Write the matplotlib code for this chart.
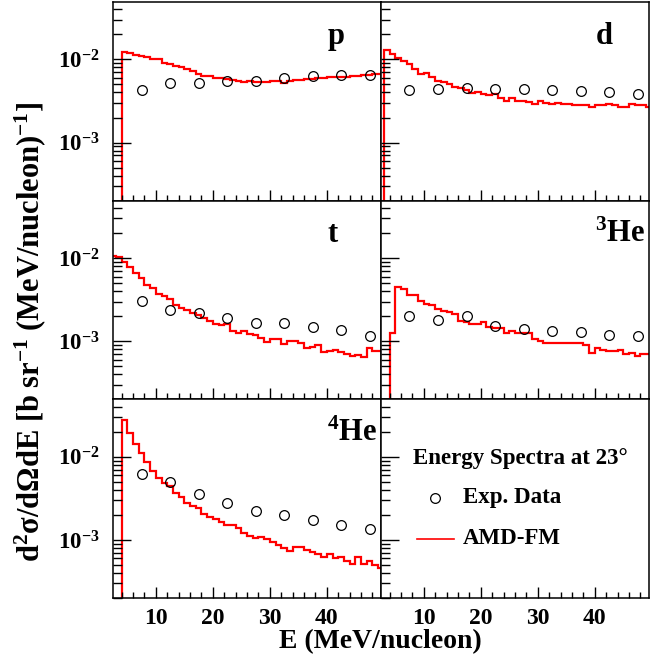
import numpy as np
import matplotlib
matplotlib.use('Agg')
import matplotlib.pyplot as plt
from matplotlib.ticker import FixedLocator, MultipleLocator, FuncFormatter, LogLocator, NullFormatter
from matplotlib.lines import Line2D

plt.rcParams['font.family'] = ['Liberation Serif', 'DejaVu Serif']
plt.rcParams['font.weight'] = 'bold'
plt.rcParams['mathtext.fontset'] = 'custom'
plt.rcParams['mathtext.rm'] = 'Liberation Serif:bold'
plt.rcParams['mathtext.bf'] = 'Liberation Serif:bold'
plt.rcParams['mathtext.it'] = 'Liberation Serif:bold:italic'
plt.rcParams['mathtext.default'] = 'rm'

#%% data

exp_E = [7.5, 12.5, 17.5, 22.5, 27.5, 32.5, 37.5, 42.5, 47.5]

exp_p = [0.00432, 0.0052, 0.00515, 0.0055, 0.0055, 0.00597, 0.00624, 0.00641, 0.00648]
exp_d = [0.00428, 0.00444, 0.00449, 0.00444, 0.00436, 0.00428, 0.0042, 0.00405, 0.0038]
exp_t = [0.00308, 0.0024, 0.00217, 0.00189, 0.00166, 0.00166, 0.00147, 0.00135, 0.00117]
exp_he3 = [0.002, 0.00182, 0.00203, 0.00151, 0.00141, 0.00132, 0.00128, 0.0012, 0.00116]
exp_he4 = [0.00625, 0.00501, 0.00356, 0.00275, 0.00225, 0.00197, 0.00172, 0.00151, 0.00137]

# AMD-FM histograms, 1 MeV/nucleon bins, first bin lower edge given
amd_p_start = 4
amd_p = [0.0122, 0.0120, 0.0114, 0.0111, 0.0106, 0.0102, 0.0101, 0.0091, 0.0087, 0.0083,
         0.0080, 0.0077, 0.0072, 0.0066, 0.0064, 0.0063, 0.0060, 0.0059, 0.0058, 0.0057,
         0.0055, 0.0054, 0.0055, 0.0054, 0.0054, 0.0054, 0.0055, 0.0055, 0.0052, 0.0055,
         0.0056, 0.0057, 0.0058, 0.0058, 0.0059, 0.0060, 0.0061, 0.0061, 0.0062, 0.0062,
         0.0063, 0.0063, 0.0065, 0.0065, 0.0066, 0.0066]

amd_d_start = 3
amd_d = [0.0128, 0.0117, 0.0103, 0.0095, 0.0087, 0.0076, 0.0067, 0.0069, 0.0061, 0.0055,
         0.0053, 0.0051, 0.0047, 0.0045, 0.0043, 0.0039, 0.0041, 0.0038, 0.0037, 0.0038,
         0.0034, 0.0032, 0.0034, 0.0032, 0.0032, 0.0031, 0.0029, 0.0032, 0.0030, 0.0029,
         0.0030, 0.0029, 0.0029, 0.0028, 0.0028, 0.0028, 0.0027, 0.0028, 0.0028, 0.0029,
         0.0028, 0.0027, 0.0027, 0.0029, 0.0028, 0.0028, 0.0027]

amd_t_start = 2
amd_t = [0.0105, 0.0103, 0.0090, 0.0078, 0.0066, 0.0057, 0.0048, 0.0044, 0.0037, 0.0035,
         0.0032, 0.0027, 0.0025, 0.0024, 0.0022, 0.00205, 0.0019, 0.00175, 0.0016, 0.00156,
         0.0016, 0.00132, 0.00127, 0.00132, 0.00121, 0.00118, 0.0011, 0.00098, 0.00107, 0.00105,
         0.00093, 0.0010, 0.0010, 0.00096, 0.00084, 0.00085, 0.0009, 0.00075, 0.00077, 0.00079,
         0.00075, 0.00071, 0.00066, 0.00068, 0.00064, 0.00084, 0.00077, 0.00077]

amd_he3_start = 4
amd_he3 = [0.00124, 0.00449, 0.00428, 0.00363, 0.00356, 0.00305, 0.00283, 0.0027, 0.00247, 0.00231,
           0.00225, 0.00211, 0.00175, 0.0017, 0.00163, 0.0016, 0.0017, 0.00149, 0.00146, 0.00145,
           0.00127, 0.00132, 0.00124, 0.00124, 0.00124, 0.00105, 0.0010, 0.00094, 0.00096, 0.00094,
           0.00094, 0.00095, 0.00096, 0.00094, 0.0009, 0.00072, 0.00084, 0.00078, 0.00077, 0.00077,
           0.00078, 0.0007, 0.00072, 0.00066, 0.00071, 0.0007]

amd_he4_start = 4
amd_he4 = [0.0275, 0.0194, 0.0142, 0.0110, 0.0087, 0.0068, 0.0055, 0.0049, 0.0044, 0.0037,
           0.0033, 0.00275, 0.00255, 0.0024, 0.00205, 0.0019, 0.00177, 0.00166, 0.00151, 0.00149,
           0.00138, 0.00122, 0.00111, 0.00105, 0.00107, 0.00102, 0.00095, 0.00087, 0.00081, 0.00074,
           0.00083, 0.00083, 0.00076, 0.00072, 0.00068, 0.00063, 0.00067, 0.00061, 0.00063, 0.00056,
           0.00052, 0.00063, 0.00051, 0.00055, 0.0005, 0.00046]

labels = ['p', 'd', 't', r'$^{3}$He', r'$^{4}$He']
exps = [exp_p, exp_d, exp_t, exp_he3, exp_he4]
amds = [(amd_p_start, amd_p), (amd_d_start, amd_d), (amd_t_start, amd_t),
        (amd_he3_start, amd_he3), (amd_he4_start, amd_he4)]

#%% figure

fig, axes = plt.subplots(3, 2, figsize=(6.69, 6.63), dpi=100, sharex=True, sharey=True)
fig.subplots_adjust(left=0.169, right=0.970, top=0.997, bottom=0.098, hspace=0, wspace=0)

RED = '#ff0000'

for ax in axes.flat:
    ax.set_yscale('log')
    ax.set_xlim(2.5, 49.5)
    ax.set_ylim(2.0e-4, 4.9e-2)
    ax.xaxis.set_major_locator(FixedLocator([10, 20, 30, 40]))
    ax.xaxis.set_minor_locator(MultipleLocator(2))
    ax.yaxis.set_major_locator(LogLocator(base=10))
    ax.yaxis.set_minor_locator(LogLocator(base=10, subs=np.arange(2, 10)))
    ax.yaxis.set_major_formatter(FuncFormatter(lambda v, pos: r'$10^{%d}$' % round(np.log10(v))))
    ax.yaxis.set_minor_formatter(NullFormatter())
    ax.tick_params(axis='x', which='major', direction='in', length=8, width=1, labelsize=17, pad=7)
    ax.tick_params(axis='x', which='minor', direction='in', length=4, width=1)
    ax.tick_params(axis='y', which='major', direction='in', length=13, width=1, labelsize=16.5, pad=10)
    ax.tick_params(axis='y', which='minor', direction='in', length=6.5, width=1)
    for sp in ax.spines.values():
        sp.set_linewidth(1.1)

for i, ax in enumerate(axes.flat[:5]):
    start, vals = amds[i]
    edges = np.arange(start, start + len(vals) + 1)
    ax.stairs(vals, edges, baseline=1e-6, color=RED, lw=1.6)
    ax.plot(exp_E, exps[i], 'o', mfc='none', mec='black', mew=0.9, ms=7)
    ax.text(0.80, 0.79, labels[i], transform=ax.transAxes, fontsize=22,
            fontweight='bold', ha='left', va='baseline')

# legend panel
leg = axes[2, 1]
leg.text(0.52, 0.70, 'Energy Spectra at 23\u00b0', transform=leg.transAxes,
         fontsize=16.5, fontweight='bold', ha='center', va='center')
leg.add_line(Line2D([0.20], [0.505], transform=leg.transAxes, marker='o', mfc='none',
                    mec='black', mew=0.9, ms=7, ls='none'))
leg.text(0.307, 0.505, 'Exp. Data', transform=leg.transAxes, fontsize=16.5,
         fontweight='bold', ha='left', va='center')
leg.add_line(Line2D([0.134, 0.272], [0.298, 0.298], transform=leg.transAxes, color=RED, lw=1.2))
leg.text(0.307, 0.298, 'AMD-FM', transform=leg.transAxes, fontsize=16.5,
         fontweight='bold', ha='left', va='center')

fig.text(0.568, 0.033, 'E (MeV/nucleon)', fontsize=20, fontweight='bold', ha='center', va='center')
fig.text(0.045, 0.5, 'd$^{2}$\u03c3/d\u03a9dE [b sr$^{-1}$ (MeV/nucleon)$^{-1}$]', fontsize=22,
         fontweight='bold', rotation=90, ha='center', va='center')

fig.savefig('out.png', dpi=100)
